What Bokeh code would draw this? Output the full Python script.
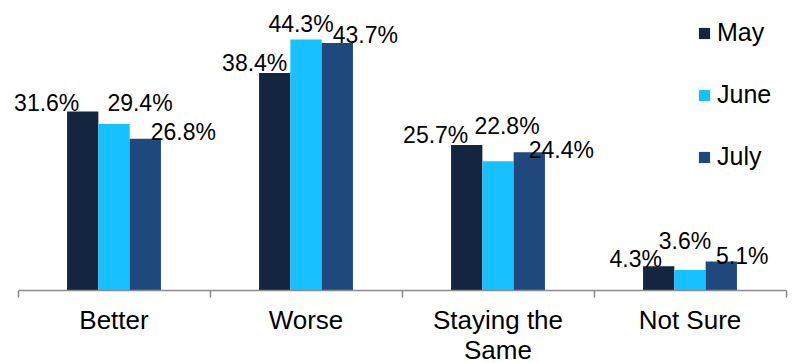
from bokeh.plotting import figure
from bokeh.models import Range1d, FixedTicker, ColumnDataSource, Legend, LegendItem
from bokeh.transform import dodge
from bokeh.core.properties import value
from bokeh.embed import file_html
from bokeh.resources import INLINE

categories = ["Better", "Worse", "Staying the Same", "Not Sure"]
category_labels = ["Better", "Worse", "Staying the\nSame", "Not Sure"]
months = ["May", "June", "July"]
may = [31.6, 38.4, 25.7, 4.3]
june = [29.4, 44.3, 22.8, 3.6]
july = [26.8, 43.7, 24.4, 5.1]
series = [may, june, july]

colors = ["#13253F", "#17C0FF", "#1F487C"]
# pixel nudges for the value labels (style only), per series per category
label_dx = [[-36, -20, -31, -23], [26, -5, 9, -5], [38, 28, 32, 21]]
label_dy = [[-9, -10, -10, -7], [-21, -16, -35, -29], [-7, -8, -2, -6]]

FONT = "Liberation Sans"
bar_w = 0.163
shifts = [-bar_w, 0.0, bar_w]
n = len(categories)
px_per_cat = 192.0
left_pad = 17.5

p = figure(
    output_backend="svg", toolbar_location=None,
    x_range=Range1d(-left_pad / px_per_cat, (793 - left_pad) / px_per_cat),
    y_range=Range1d(0, 51.2),
    frame_width=793, frame_height=290,
    min_border_left=0, min_border_right=0, min_border_top=0, min_border_bottom=0,
    y_axis_location=None,
)
p.outline_line_color = None
p.xgrid.visible = False
p.ygrid.visible = False
p.background_fill_color = "white"
p.border_fill_color = "white"

centers = [i + 0.5 for i in range(n)]
items = []
for k, (name, vals) in enumerate(zip(months, series)):
    src = ColumnDataSource(dict(
        x=centers, top=vals,
        label=[f"{v:.1f}%" for v in vals],
        dx=label_dx[k], dy=label_dy[k],
    ))
    r = p.vbar(x=dodge("x", shifts[k]), top="top", bottom=0, width=bar_w, source=src,
               fill_color=colors[k], line_color=None)
    p.text(x=dodge("x", shifts[k]), y="top", text="label", source=src,
           x_offset="dx", y_offset="dy", text_align="center", text_baseline="alphabetic",
           text_font=value(FONT), text_font_size="23px", text_color="#000000")
    items.append(LegendItem(label=name, renderers=[r]))

ax = p.xaxis[0]
ax.bounds = (0, n)
ax.ticker = FixedTicker(ticks=centers, minor_ticks=list(range(n + 1)))
ax.major_label_overrides = {c: lab for c, lab in zip(centers, category_labels)}
ax.major_tick_line_color = None
ax.major_tick_out = 7
ax.major_tick_in = 0
ax.minor_tick_line_color = "#8C8C8C"
ax.minor_tick_line_width = 1.5
ax.minor_tick_out = 7
ax.minor_tick_in = 0
ax.axis_line_color = "#8C8C8C"
ax.axis_line_width = 1.5
ax.major_label_text_font = FONT
ax.major_label_text_font_size = "26px"
ax.major_label_text_color = "#000000"
ax.major_label_standoff = 7
ax.major_label_text_line_height = 1.0

legend = Legend(items=items, location=(697, 119))
legend.label_text_font = FONT
legend.label_text_font_size = "25px"
legend.label_text_color = "#000000"
legend.glyph_width = 14
legend.glyph_height = 14
legend.label_standoff = 6
legend.spacing = 33
legend.padding = 0
legend.margin = 0
legend.border_line_color = None
legend.background_fill_alpha = 0
p.add_layout(legend)

open("out.html", "w").write(file_html(p, INLINE))
